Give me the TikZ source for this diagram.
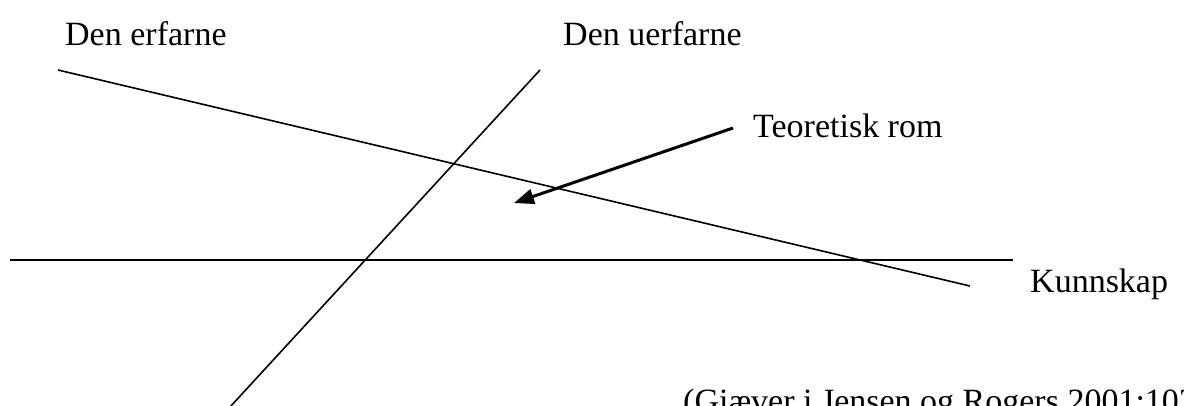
\documentclass[tikz,border=0pt]{standalone}
\usepackage{fontspec}
\setmainfont{Liberation Serif}
\usetikzlibrary{arrows.meta}
\tikzset{
  lbl/.style={anchor=base west, inner sep=0pt, font=\fontsize{34}{40}\selectfont},
  thin line/.style={line width=1.6pt, black},
  pointer/.style={line width=3pt, black, -{Triangle[length=20pt,width=15pt]}}
}
\begin{document}
\begin{tikzpicture}[x=1pt,y=-1pt]
\useasboundingbox (0,0) rectangle (1184,405);
\node[lbl] (erf) at (65,45) {Den erfarne};
\node[lbl] (uerf) at (563,45) {Den uerfarne};
\node[lbl] (teo) at (753,137) {Teoretisk rom};
\node[lbl] (kun) at (1030,292) {Kunnskap};
\node[lbl] (cit) at (683,412) {(Giæver i Jensen og Rogers 2001:103)};
\coordinate (a1) at (58,70);
\coordinate (a2) at (970,286);
\coordinate (b1) at (540,70);
\coordinate (b2) at (230,407);
\coordinate (h1) at (10,260);
\coordinate (h2) at (1013,260);
\coordinate (p1) at (733,128);
\coordinate (p2) at (514,203);
\draw[thin line] (a1) -- (a2);
\draw[thin line] (b1) -- (b2);
\draw[thin line] (h1) -- (h2);
\draw[pointer] (p1) -- (p2);
\end{tikzpicture}
\end{document}
